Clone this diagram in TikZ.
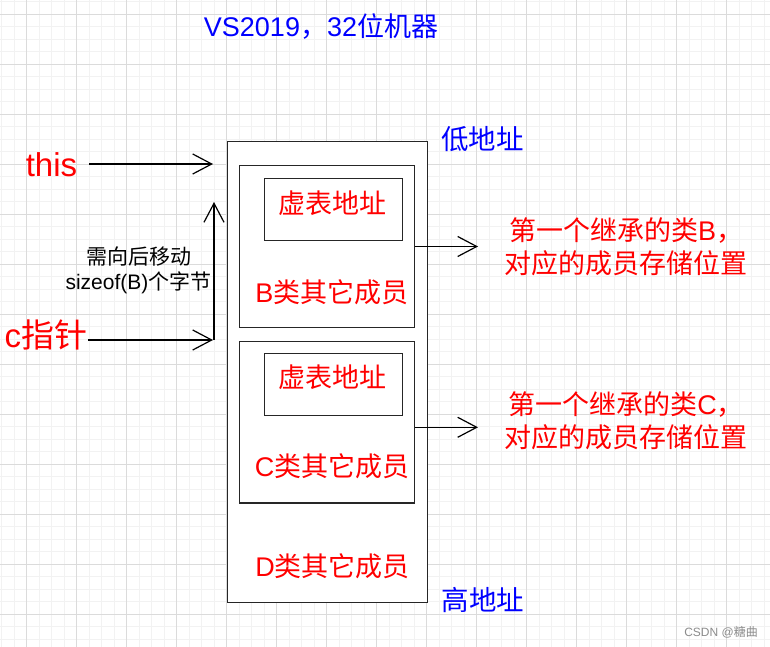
\documentclass[tikz,border=0pt]{standalone}
\usepackage{fontspec}
\setmainfont{Liberation Sans}
\newfontfamily\cjk{Noto Sans CJK SC}
\usetikzlibrary{arrows.meta}
\begin{document}
\begin{tikzpicture}[x=1pt,y=-1pt,
  minorgrid/.style={draw=black!5, line width=1pt},
  majorgrid/.style={draw=black!14, line width=1pt},
  box/.style={draw=black!85, line width=1.3pt, fill=white, inner sep=0pt, anchor=north west},
  arr/.style={draw=black, line width=1.2pt, -{Straight Barb[length=19pt,width=20pt]}},
  redtxt/.style={text=red, inner sep=0pt, align=center, font=\fontsize{27}{33}\selectfont},
  bluetxt/.style={text=blue, inner sep=0pt, font=\fontsize{27.5}{32}\selectfont},
  bigtxt/.style={text=red, inner sep=0pt, font=\fontsize{33}{36}\selectfont},
  smalltxt/.style={text=black, inner sep=0pt, align=center, font=\fontsize{21}{25}\selectfont}
]
\path[use as bounding box, fill=white] (0,0) rectangle (770,647);
% grid
\foreach \i in {0,...,61} {\draw[minorgrid] ({1.7+12.5*\i},0) -- ({1.7+12.5*\i},647);}
\foreach \i in {0,...,51} {\draw[minorgrid] (0,{1.8+12.5*\i}) -- (770,{1.8+12.5*\i});}
\foreach \i in {0,...,15} {\draw[majorgrid] ({26.7+50*\i},0) -- ({26.7+50*\i},647);}
\foreach \i in {0,...,12} {\draw[majorgrid] (0,{14.3+50*\i}) -- (770,{14.3+50*\i});}

% title
\node[text=blue, inner sep=0pt, font=\fontsize{27}{30}\selectfont] (title) at (321,27) {VS2019{\cjk ，}32{\cjk 位机器}};

% memory boxes
\node[box, minimum width=199.7pt, minimum height=461pt] (outer) at (227,140.7) {};
\node[box, minimum width=175pt, minimum height=161.7pt] (B) at (239,165) {};
\node[box, minimum width=137.7pt, minimum height=62.3pt] (vB) at (264,177.7) {};
\node[box, minimum width=175pt, minimum height=161.6pt] (C) at (239,340.7) {};
\node[box, minimum width=137.7pt, minimum height=62.3pt] (vC) at (264,352.7) {};

\node[redtxt] (vBt) at (332,203) {\cjk 虚表地址};
\node[redtxt] (vCt) at (332,377.5) {\cjk 虚表地址};
\node[redtxt] (Bm) at (332,292) {B{\cjk 类其它成员}};
\node[redtxt] (Cm) at (332,466) {C{\cjk 类其它成员}};
\node[redtxt] (Dm) at (332.5,566) {D{\cjk 类其它成员}};

\node[bluetxt] (low) at (482.5,139) {\cjk 低地址};
\node[bluetxt] (high) at (483,600) {\cjk 高地址};

% right notes
\node[redtxt] (noteB) at (626,247) {{\cjk 第一个继承的类}B{\cjk ，}\\{\cjk 对应的成员存储位置}};
\node[redtxt] (noteC) at (626,421) {{\cjk 第一个继承的类}C{\cjk ，}\\{\cjk 对应的成员存储位置}};
\coordinate (bEnd) at (478,246.5);
\coordinate (cEnd) at (478,427.3);
\draw[arr] (bEnd -| B.east) -- (bEnd);
\draw[arr] (cEnd -| C.east) -- (cEnd);

% left pointers
\node[bigtxt] (this) at (51.5,164.5) {this};
\node[bigtxt] (cp) at (46,335) {c{\cjk 指针}};
\coordinate (thisEnd) at (213,164);
\coordinate (cpEnd) at (213,340);
\coordinate (upEnd) at (214,202);
\draw[arr] ([xshift=12pt]this.east |- thisEnd) -- (thisEnd);
\draw[arr] ([xshift=1pt]cp.east |- cpEnd) -- (cpEnd);
\draw[arr] (upEnd |- cpEnd) -- (upEnd);
\node[smalltxt] (move) at (138.5,270.5) {{\cjk 需向后移动}\\sizeof(B){\cjk 个字节}};

% watermark
\node[text=black!45, inner sep=0pt, font=\fontsize{12}{14}\selectfont] (wm) at (721,632) {CSDN @{\cjk 糖曲}};
\end{tikzpicture}
\end{document}
